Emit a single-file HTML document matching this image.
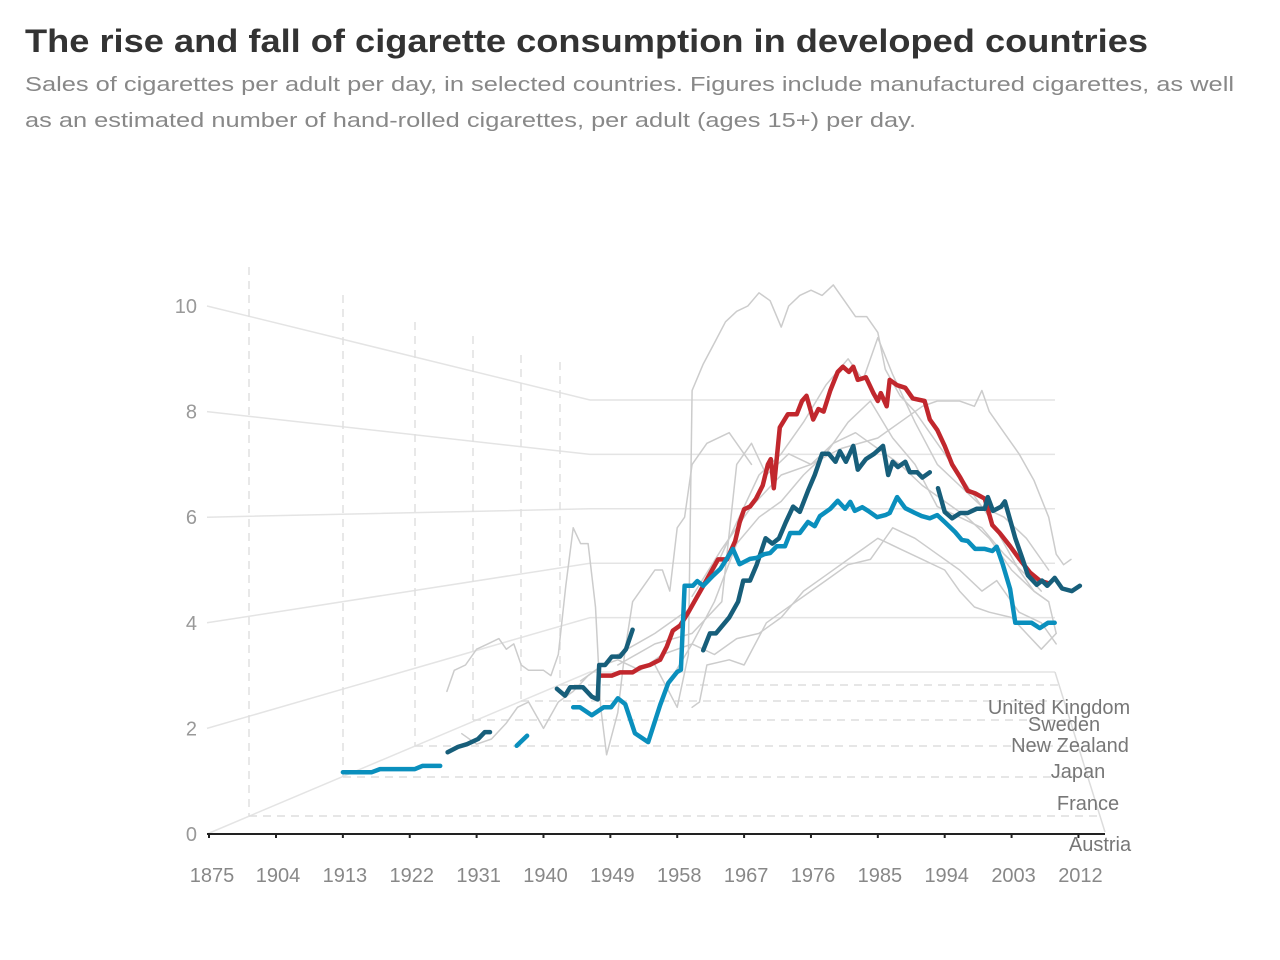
<!DOCTYPE html>
<html><head><meta charset="utf-8"><style>
html,body{margin:0;padding:0;background:#fff;}
svg{display:block;font-family:"Liberation Sans",sans-serif;}
</style></head><body>
<svg id="chart" width="1280" height="960" viewBox="0 0 1280 960" xmlns="http://www.w3.org/2000/svg">
<text x="25" y="52" font-size="32" font-weight="bold" fill="#333" textLength="1123" lengthAdjust="spacingAndGlyphs">The rise and fall of cigarette consumption in developed countries</text>
<text x="25" y="91" font-size="20" fill="#888" textLength="1209" lengthAdjust="spacingAndGlyphs">Sales of cigarettes per adult per day, in selected countries. Figures include manufactured cigarettes, as well</text>
<text x="25" y="127" font-size="20" fill="#888" textLength="891" lengthAdjust="spacingAndGlyphs">as an estimated number of hand-rolled cigarettes, per adult (ages 15+) per day.</text>
<g id="grid"></g>
<g id="series"></g>
<g id="axes"></g>
</svg>
<script>
const yTicks = [0, 2, 4, 6, 8, 10];
const xTickLabels = ["1875","1904","1913","1922","1931","1940","1949","1958","1967","1976","1985","1994","2003","2012"];
const countries = ["United Kingdom","Sweden","New Zealand","Japan","France","Austria"];

const lightBlue1 = [[1913,1.17],[1916.9,1.17],[1918,1.23],[1922.7,1.23],[1923.7,1.29],[1926.1,1.29]];
const lightBlue2 = [[1936.4,1.67],[1937.8,1.86]];
const lightBlue3 = [[1944,2.4],[1944.9,2.4],[1946.5,2.25],[1948.1,2.4],[1949.1,2.4],[1950,2.57],[1951,2.46],[1952.3,1.91],[1954.1,1.74],[1955.7,2.44],[1956.8,2.86],[1958,3.07],[1958.5,3.11],[1959,4.7],[1960.1,4.7],[1960.7,4.79],[1961.5,4.7],[1962.8,4.89],[1963.8,5.02],[1965.5,5.4],[1966.4,5.11],[1967.8,5.21],[1968.7,5.23],[1969.7,5.3],[1970.5,5.32],[1971.4,5.45],[1972.5,5.45],[1973.2,5.7],[1974.5,5.7],[1975.6,5.91],[1976.5,5.83],[1977.2,6.02],[1978.6,6.16],[1979.6,6.31],[1980.6,6.16],[1981.3,6.29],[1981.9,6.12],[1982.9,6.19],[1983.7,6.12],[1984.9,6.0],[1986,6.04],[1986.6,6.08],[1987.6,6.38],[1988.7,6.17],[1990,6.08],[1990.9,6.02],[1992,5.98],[1993,6.04],[1994,5.91],[1995.4,5.72],[1996.3,5.57],[1997.1,5.55],[1998.1,5.4],[1999.4,5.4],[2000.4,5.36],[2001,5.44],[2001.8,5.11],[2002.8,4.64],[2003.5,4.0],[2005.7,4.0],[2006.8,3.9],[2007.9,4.0],[2008.8,4.0]];
const darkTeal1 = [[1927.1,1.55],[1928.5,1.65],[1929.7,1.7],[1931.2,1.8],[1932.1,1.93],[1932.8,1.93]];
const darkTeal2 = [[1941.8,2.75],[1942.9,2.62],[1943.6,2.78],[1945.3,2.78],[1946.5,2.6],[1947.3,2.55],[1947.5,3.2],[1948.3,3.2],[1949.2,3.36],[1950.3,3.36],[1951.1,3.5],[1952,3.87]];
const darkTeal3 = [[1961.5,3.48],[1962.4,3.8],[1963.2,3.8],[1965,4.1],[1966.2,4.4],[1966.9,4.8],[1967.8,4.8],[1968.7,5.1],[1969.9,5.6],[1970.8,5.5],[1971.7,5.6],[1972.6,5.9],[1973.6,6.2],[1974.5,6.1],[1975.6,6.5],[1976.5,6.8],[1977.5,7.2],[1978.4,7.2],[1979.3,7.05],[1979.9,7.25],[1980.7,7.05],[1981.7,7.35],[1982.3,6.9],[1983.4,7.1],[1984.5,7.2],[1985.7,7.35],[1986.4,6.8],[1987,7.05],[1987.7,6.95],[1988.7,7.05],[1989.3,6.85],[1990.3,6.85],[1991,6.75],[1992,6.85]];
const darkTeal4 = [[1993.1,6.55],[1994,6.1],[1995,5.98],[1996.1,6.08],[1997.1,6.08],[1998.3,6.16],[1999.4,6.16],[1999.8,6.38],[2000.5,6.12],[2001.6,6.2],[2002.1,6.3],[2003.5,5.6],[2004.5,5.2],[2005.2,4.9],[2006.4,4.72],[2007.1,4.8],[2007.8,4.7],[2008.8,4.85],[2009.8,4.65],[2011.1,4.6],[2012.2,4.7]];
const red1 = [[1947.6,3.0],[1949.2,3.0],[1950.3,3.06],[1952,3.06],[1953,3.15],[1954.3,3.2],[1955.7,3.3],[1956.6,3.55],[1957.4,3.85],[1958.4,3.95],[1959.5,4.2],[1960.3,4.4],[1961.1,4.6],[1961.9,4.8],[1962.7,5.0],[1963.5,5.2],[1964.7,5.2],[1965.8,5.55],[1966.4,5.9],[1967,6.15],[1967.8,6.2],[1968.6,6.35],[1969.5,6.6],[1970.2,7.0],[1970.6,7.1],[1971,6.55],[1971.8,7.7],[1972.9,7.95],[1974.1,7.95],[1974.8,8.2],[1975.4,8.3],[1976.3,7.85],[1977,8.05],[1977.7,8.0],[1978.6,8.4],[1979.6,8.75],[1980.3,8.85],[1981.1,8.75],[1981.7,8.85],[1982.3,8.6],[1983.4,8.65],[1984.4,8.35],[1985,8.2],[1985.4,8.35],[1986.2,8.1],[1986.6,8.6],[1987.6,8.5],[1988.7,8.45],[1989.7,8.25],[1991.3,8.2],[1992,7.85],[1993,7.65],[1994,7.35],[1995,7.0],[1996.1,6.75],[1997.1,6.5],[1998.1,6.45],[1999.4,6.35],[2000.4,5.85],[2001.4,5.7],[2002.8,5.45],[2004.1,5.2],[2005.5,4.95],[2006.8,4.8],[2007.9,4.75]];

const grey1 = [[1955,3.2],[1958,2.4],[1959.5,3.4],[1960,8.4],[1961.5,8.9],[1963,9.3],[1964.5,9.7],[1966,9.9],[1967.5,10.0],[1969,10.25],[1970.5,10.1],[1972,9.6],[1973,10.0],[1974.5,10.2],[1976,10.3],[1977.5,10.2],[1979,10.4],[1980.5,10.1],[1982,9.8],[1983.5,9.8],[1985,9.5],[1986,8.8],[1988,8.3],[1990,8.0],[1992,7.6],[1994,7.2],[1996,6.8],[1998,6.4],[2000,6.0],[2002,5.5],[2004,5.0],[2006,4.6],[2008,4.4],[2009,3.8]];
const grey2 = [[1960,4.5],[1964,5.4],[1968,6.2],[1972,6.8],[1976,7.0],[1980,7.3],[1985,7.5],[1988,7.8],[1991,8.1],[1993,8.2],[1996,8.2],[1998,8.1],[1999,8.4],[2000,8.0],[2002,7.6],[2004,7.2],[2006,6.7],[2008,6.0],[2009,5.3],[2010,5.1],[2011,5.2]];
const grey3 = [[1927,2.7],[1928,3.1],[1929.5,3.2],[1931,3.5],[1932.5,3.6],[1934,3.7],[1935,3.5],[1936,3.6],[1937,3.2],[1938,3.1],[1940,3.1],[1941,3.0],[1942,3.4],[1943,4.7],[1944,5.8],[1945,5.5],[1946,5.5],[1947,4.3],[1947.7,2.4],[1948.5,1.5],[1950,2.3],[1951,3.5],[1952,4.4],[1953,4.6],[1954,4.8],[1955,5.0],[1956,5.0],[1957,4.6],[1958,5.8],[1959,6.0],[1960,7.0],[1962,7.4],[1965,7.6],[1968,7.0]];
const grey4 = [[1929,1.9],[1931,1.7],[1933,1.8],[1935,2.1],[1936.5,2.4],[1938,2.5],[1940,2.0],[1942,2.5],[1944,2.7],[1946,3.0],[1948,3.2],[1950,3.3],[1953,3.1],[1956,3.4],[1960,3.6],[1963,3.4],[1966,3.7],[1969,3.8],[1972,4.1],[1975,4.6],[1978,4.9],[1981,5.2],[1983,5.4],[1985,5.6],[1988,5.4],[1991,5.2],[1994,5.0],[1996,4.6],[1998,4.3],[2000,4.2],[2003,4.1],[2005,3.8],[2007,3.5],[2009,3.8]];
const grey5 = [[1960,2.4],[1961,2.5],[1962,3.2],[1965,3.3],[1967,3.2],[1970,4.0],[1972,4.2],[1975,4.5],[1978,4.8],[1981,5.1],[1984,5.2],[1987,5.8],[1990,5.6],[1993,5.3],[1996,5.0],[1999,4.6],[2001,4.8],[2004,4.2],[2007,4.0],[2009,3.6]];
const grey6 = [[1945,2.9],[1950,3.4],[1955,3.8],[1960,4.3],[1963,5.0],[1966,5.9],[1969,6.8],[1972,7.2],[1975,7.8],[1978,8.5],[1981,9.0],[1983,8.6],[1985,9.4],[1987,8.7],[1990,7.8],[1993,7.0],[1996,6.6],[1999,6.2],[2002,6.0],[2005,5.6],[2008,5.0]];
const grey7 = [[1950,3.2],[1955,3.6],[1960,3.8],[1964,4.4],[1966,7.0],[1968,7.4],[1970,6.8],[1973,7.2],[1976,7.0],[1979,7.4],[1982,7.6],[1985,7.3],[1988,7.0],[1991,6.6],[1994,6.3],[1997,6.0],[2000,5.6],[2003,5.0],[2006,4.6],[2008,4.4]];
const grey8 = [[1957,2.9],[1960,3.6],[1963,4.4],[1966,5.5],[1969,6.0],[1972,6.3],[1975,6.8],[1978,7.2],[1981,7.8],[1984,8.2],[1987,7.5],[1990,7.0],[1993,6.2],[1996,6.0],[1999,5.8],[2002,5.3],[2005,4.9],[2007,4.6]];

const NS = "http://www.w3.org/2000/svg";
function xScale(yr){ return 276 + (yr - 1904) * 7.43; }
function yScale(v){ return 834 - v * 52.8; }
function mk(tag, attrs, parent){ const e = document.createElementNS(NS, tag); for (const k in attrs) e.setAttribute(k, attrs[k]); parent.appendChild(e); return e; }

const grid = document.getElementById('grid');
const series = document.getElementById('series');
const axes = document.getElementById('axes');

// slanted value grid lines
yTicks.forEach(function(v){
  const y0 = yScale(v);
  const y1 = 672 - v * 27.2;
  const p = mk('polyline', {points: '207,' + y0 + ' 590,' + y1 + ' 1055,' + y1, fill: 'none', stroke: '#e4e4e4', 'stroke-width': 1.5}, grid);
  
  
});
const edge = mk('line', {x1: 1055, y1: 672, x2: 1105, y2: 832, stroke: '#dcdcdc', 'stroke-width': 1.5}, grid);



// country floor dashed lines
const floorX = [560, 521, 473, 415, 343, 249];
const floorY = [685, 701, 720, 746, 777, 816];
const floorTop = [362, 355, 336, 322, 295, 267];
floorX.forEach(function(fx, i){
  const h = mk('line', {x1: fx, y1: floorY[i], x2: 1055 + (floorY[i] - 672) * 50 / 160, y2: floorY[i], stroke: '#dedede', 'stroke-width': 1.5, 'stroke-dasharray': '8,6'}, grid);
  
  
  const vl = mk('line', {x1: fx, y1: floorTop[i], x2: fx, y2: floorY[i], stroke: '#e0e0e0', 'stroke-width': 1.5, 'stroke-dasharray': '8,6'}, grid);
  
  
});

function drawLine(data, color, w, name){
  const pts = data.map(function(d){ return xScale(d[0]).toFixed(1) + ',' + yScale(d[1]).toFixed(1); }).join(' ');
  const p = mk('polyline', {points: pts, fill: 'none', stroke: color, 'stroke-width': w, 'stroke-linejoin': 'round', 'stroke-linecap': 'round'}, series);
  
  
}
[grey1, grey2, grey3, grey4, grey5, grey6, grey7, grey8].forEach(function(g, i){ drawLine(g, '#cccccc', 1.5, 'grey-series-' + (i + 1)); });
drawLine(red1, '#c1272d', 4.5, 'red-series');
[darkTeal1, darkTeal2, darkTeal3, darkTeal4].forEach(function(s, i){ drawLine(s, '#175e7a', 4.5, 'dark-teal-series-' + (i + 1)); });
[lightBlue1, lightBlue2, lightBlue3].forEach(function(s, i){ drawLine(s, '#0a8fbd', 4.5, 'light-blue-series-' + (i + 1)); });

// x axis
const ax = mk('line', {x1: 207, y1: 834, x2: 1105, y2: 834, stroke: '#222', 'stroke-width': 2}, axes);


xTickLabels.forEach(function(lbl, i){
  const x = i === 0 ? 209 : xScale(1904 + (i - 1) * 9);
  const t = mk('line', {x1: x, y1: 834, x2: x, y2: 838, stroke: '#222', 'stroke-width': 2}, axes);
  
  
  const tx = mk('text', {x: i === 0 ? 212 : x + 2, y: 882, 'font-size': 20, fill: '#888', 'text-anchor': 'middle'}, axes);
  tx.textContent = lbl;
  
  
});
yTicks.forEach(function(v){
  const t = mk('text', {x: 197, y: yScale(v) + 7, 'font-size': 20, fill: '#999', 'text-anchor': 'end'}, axes);
  t.textContent = String(v);
  
  
});
const labelX = [1059, 1064, 1070, 1078, 1088, 1100];
const labelY = [714, 731, 752, 778, 810, 851];
countries.forEach(function(c, i){
  const t = mk('text', {x: labelX[i], y: labelY[i], 'font-size': 20, fill: '#777', 'text-anchor': 'middle'}, axes);
  t.textContent = c;
  
  
});
</script>
</body></html>
